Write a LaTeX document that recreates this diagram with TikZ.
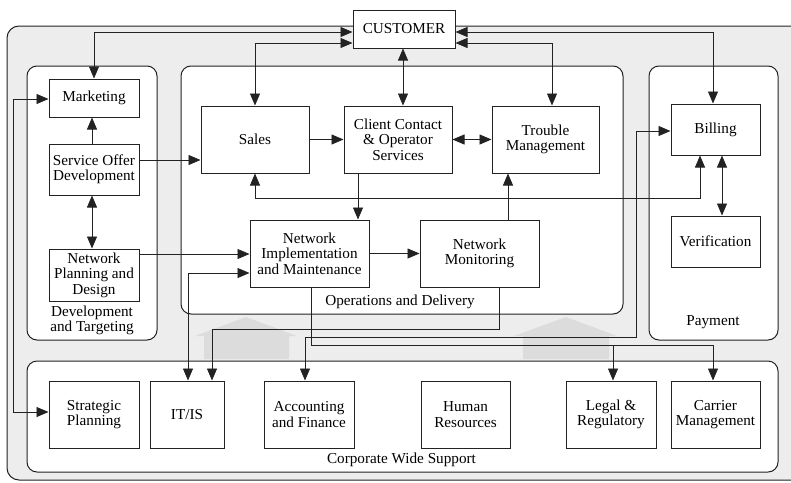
\documentclass[tikz,border=0pt]{standalone}
\usepackage{fontspec}
\setmainfont{Liberation Serif}
\usetikzlibrary{arrows.meta}
\definecolor{bgout}{HTML}{EDEDED}
\definecolor{housec}{HTML}{DCDCDC}
\definecolor{ln}{HTML}{222222}
\begin{document}
\begin{tikzpicture}[x=1pt,y=-1pt,
  every node/.style={font=\fontsize{15.2}{15.5}\selectfont, text=black},
  box/.style={draw=ln, line width=1pt, fill=white, align=center, inner sep=0pt},
  panel/.style={draw=ln, line width=1pt, fill=white, rounded corners=10pt},
  lbl/.style={align=center, inner sep=0pt},
  conn/.style={draw=ln, line width=0.8pt},
  sgl/.style={conn, -{Triangle[length=12pt,width=10pt]}},
  dbl/.style={conn, {Triangle[length=12pt,width=10pt]}-{Triangle[length=12pt,width=10pt]}},
  housep/.style={fill=housec, draw=none}]
\useasboundingbox (0,0) rectangle (791,482);
\clip (0,0) rectangle (791,482);
% outer background
\draw[draw=ln, line width=1pt, fill=bgout, rounded corners=12pt] (7,26) rectangle (810,480);
% panels
\draw[panel] (27,66) rectangle (157,340);
\draw[panel] (181,66) rectangle (623,314);
\draw[panel] (649,66) rectangle (778,340);
\draw[panel] (27,361) rectangle (778,472);
% house arrows
\fill[housep] (204,359) -- (204,336) -- (195,336) -- (246,317) -- (297,336) -- (289,336) -- (289,359) -- cycle;
\fill[housep] (523,359) -- (523,336) -- (514,336) -- (566,317) -- (617,336) -- (609,336) -- (609,359) -- cycle;
% panel labels
\node[lbl] (devl) at (92,320.5) {Development\\and Targeting};
\node[lbl] (opsl) at (400,302) {Operations and Delivery};
\node[lbl] (payl) at (713,322) {Payment};
\node[lbl] (corpl) at (401.5,460) {Corporate Wide Support};
% boxes
\node[box, minimum width=102pt, minimum height=38pt] (cust) at (404,29) {CUSTOMER};
\node[box, minimum width=90pt, minimum height=38pt] (mkt) at (94,98) {Marketing};
\node[box, minimum width=90pt, minimum height=51pt] (sod) at (94,169.5) {Service Offer\\Development};
\node[box, minimum width=90pt, minimum height=52pt] (npd) at (94,275) {Network\\Planning and\\Design};
\node[box, minimum width=108pt, minimum height=67pt] (sales) at (255,139.5) {Sales};
\node[box, minimum width=108pt, minimum height=67pt] (cc) at (398,139.5) {Client Contact\\\& Operator\\Services};
\node[box, minimum width=107pt, minimum height=67pt] (tm) at (545.5,139.5) {Trouble\\Management};
\node[box, minimum width=119pt, minimum height=67pt] (nim) at (309.5,253.5) {Network\\Implementation\\and Maintenance};
\node[box, minimum width=119pt, minimum height=67pt] (nm) at (479.5,253.5) {Network\\Monitoring};
\node[box, minimum width=89pt, minimum height=51pt] (bill) at (715.5,129.5) {Billing};
\node[box, minimum width=89pt, minimum height=51pt] (ver) at (715.5,241.5) {Verification};
\node[box, minimum width=90pt, minimum height=67pt] (strat) at (94,414.5) {Strategic\\Planning};
\node[box, minimum width=74pt, minimum height=67pt] (itis) at (187,414.5) {IT/IS};
\node[box, minimum width=90pt, minimum height=67pt] (acc) at (309,414.5) {Accounting\\and Finance};
\node[box, minimum width=89pt, minimum height=67pt] (hr) at (465.5,414.5) {Human\\Resources};
\node[box, minimum width=90pt, minimum height=67pt] (legal) at (611,414.5) {Legal \&\\Regulatory};
\node[box, minimum width=89pt, minimum height=67pt] (carr) at (715.5,414.5) {Carrier\\Management};
% connectors
\draw[dbl] (cust.west |- 0,32) -| (mkt.north);
\draw[dbl] (cust.west |- 0,43) -| (sales.north);
\draw[dbl] (cust.south -| 403,0) -- (cc.north -| 403,0);
\draw[dbl] (cust.east |- 0,43) -| (tm.north -| 552,0);
\draw[dbl] (cust.east |- 0,32) -| (bill.north -| 713,0);
\draw[sgl] (sod.north -| 92,0) -- (mkt.south -| 92,0);
\draw[dbl] (sod.south -| 92,0) -- (npd.north -| 92,0);
\draw[sgl] (sod.east |- 0,160) -- (sales.west |- 0,160);
\draw[sgl] (sales.east) -- (cc.west);
\draw[dbl] (cc.east) -- (tm.west);
\draw[sgl] (cc.south -| 358,0) -- (nim.north -| 358,0);
\draw[dbl] (sales.south) |- (700,198) -- (bill.south -| 700,0);
\draw[dbl] (bill.south -| 722,0) -- (ver.north -| 722,0);
\draw[sgl] (nim.east) -- (nm.west);
\draw[sgl] (nm.north -| 508,0) -- (tm.south -| 508,0);
\draw[sgl] (npd.east |- 0,254) -- (nim.west |- 0,254);
\draw[dbl] (itis.north -| 188,0) |- (nim.west |- 0,273);
\draw[sgl] (nm.south -| 499,0) -- (499,329) -- (212,329) -- (itis.north -| 212,0);
\draw[dbl] (bill.west |- 0,131) -- (636,131) -- (636,337) -- (305,337) -- (acc.north -| 305,0);
\draw[sgl] (nim.south -| 311,0) -- (311,345) -- (713,345) -- (carr.north -| 713,0);
\draw[sgl] (613,345) -- (legal.north -| 613,0);
\draw[dbl] (mkt.west |- 0,99) -- (13,99) -- (13,412) -- (strat.west |- 0,412);
\end{tikzpicture}
\end{document}
